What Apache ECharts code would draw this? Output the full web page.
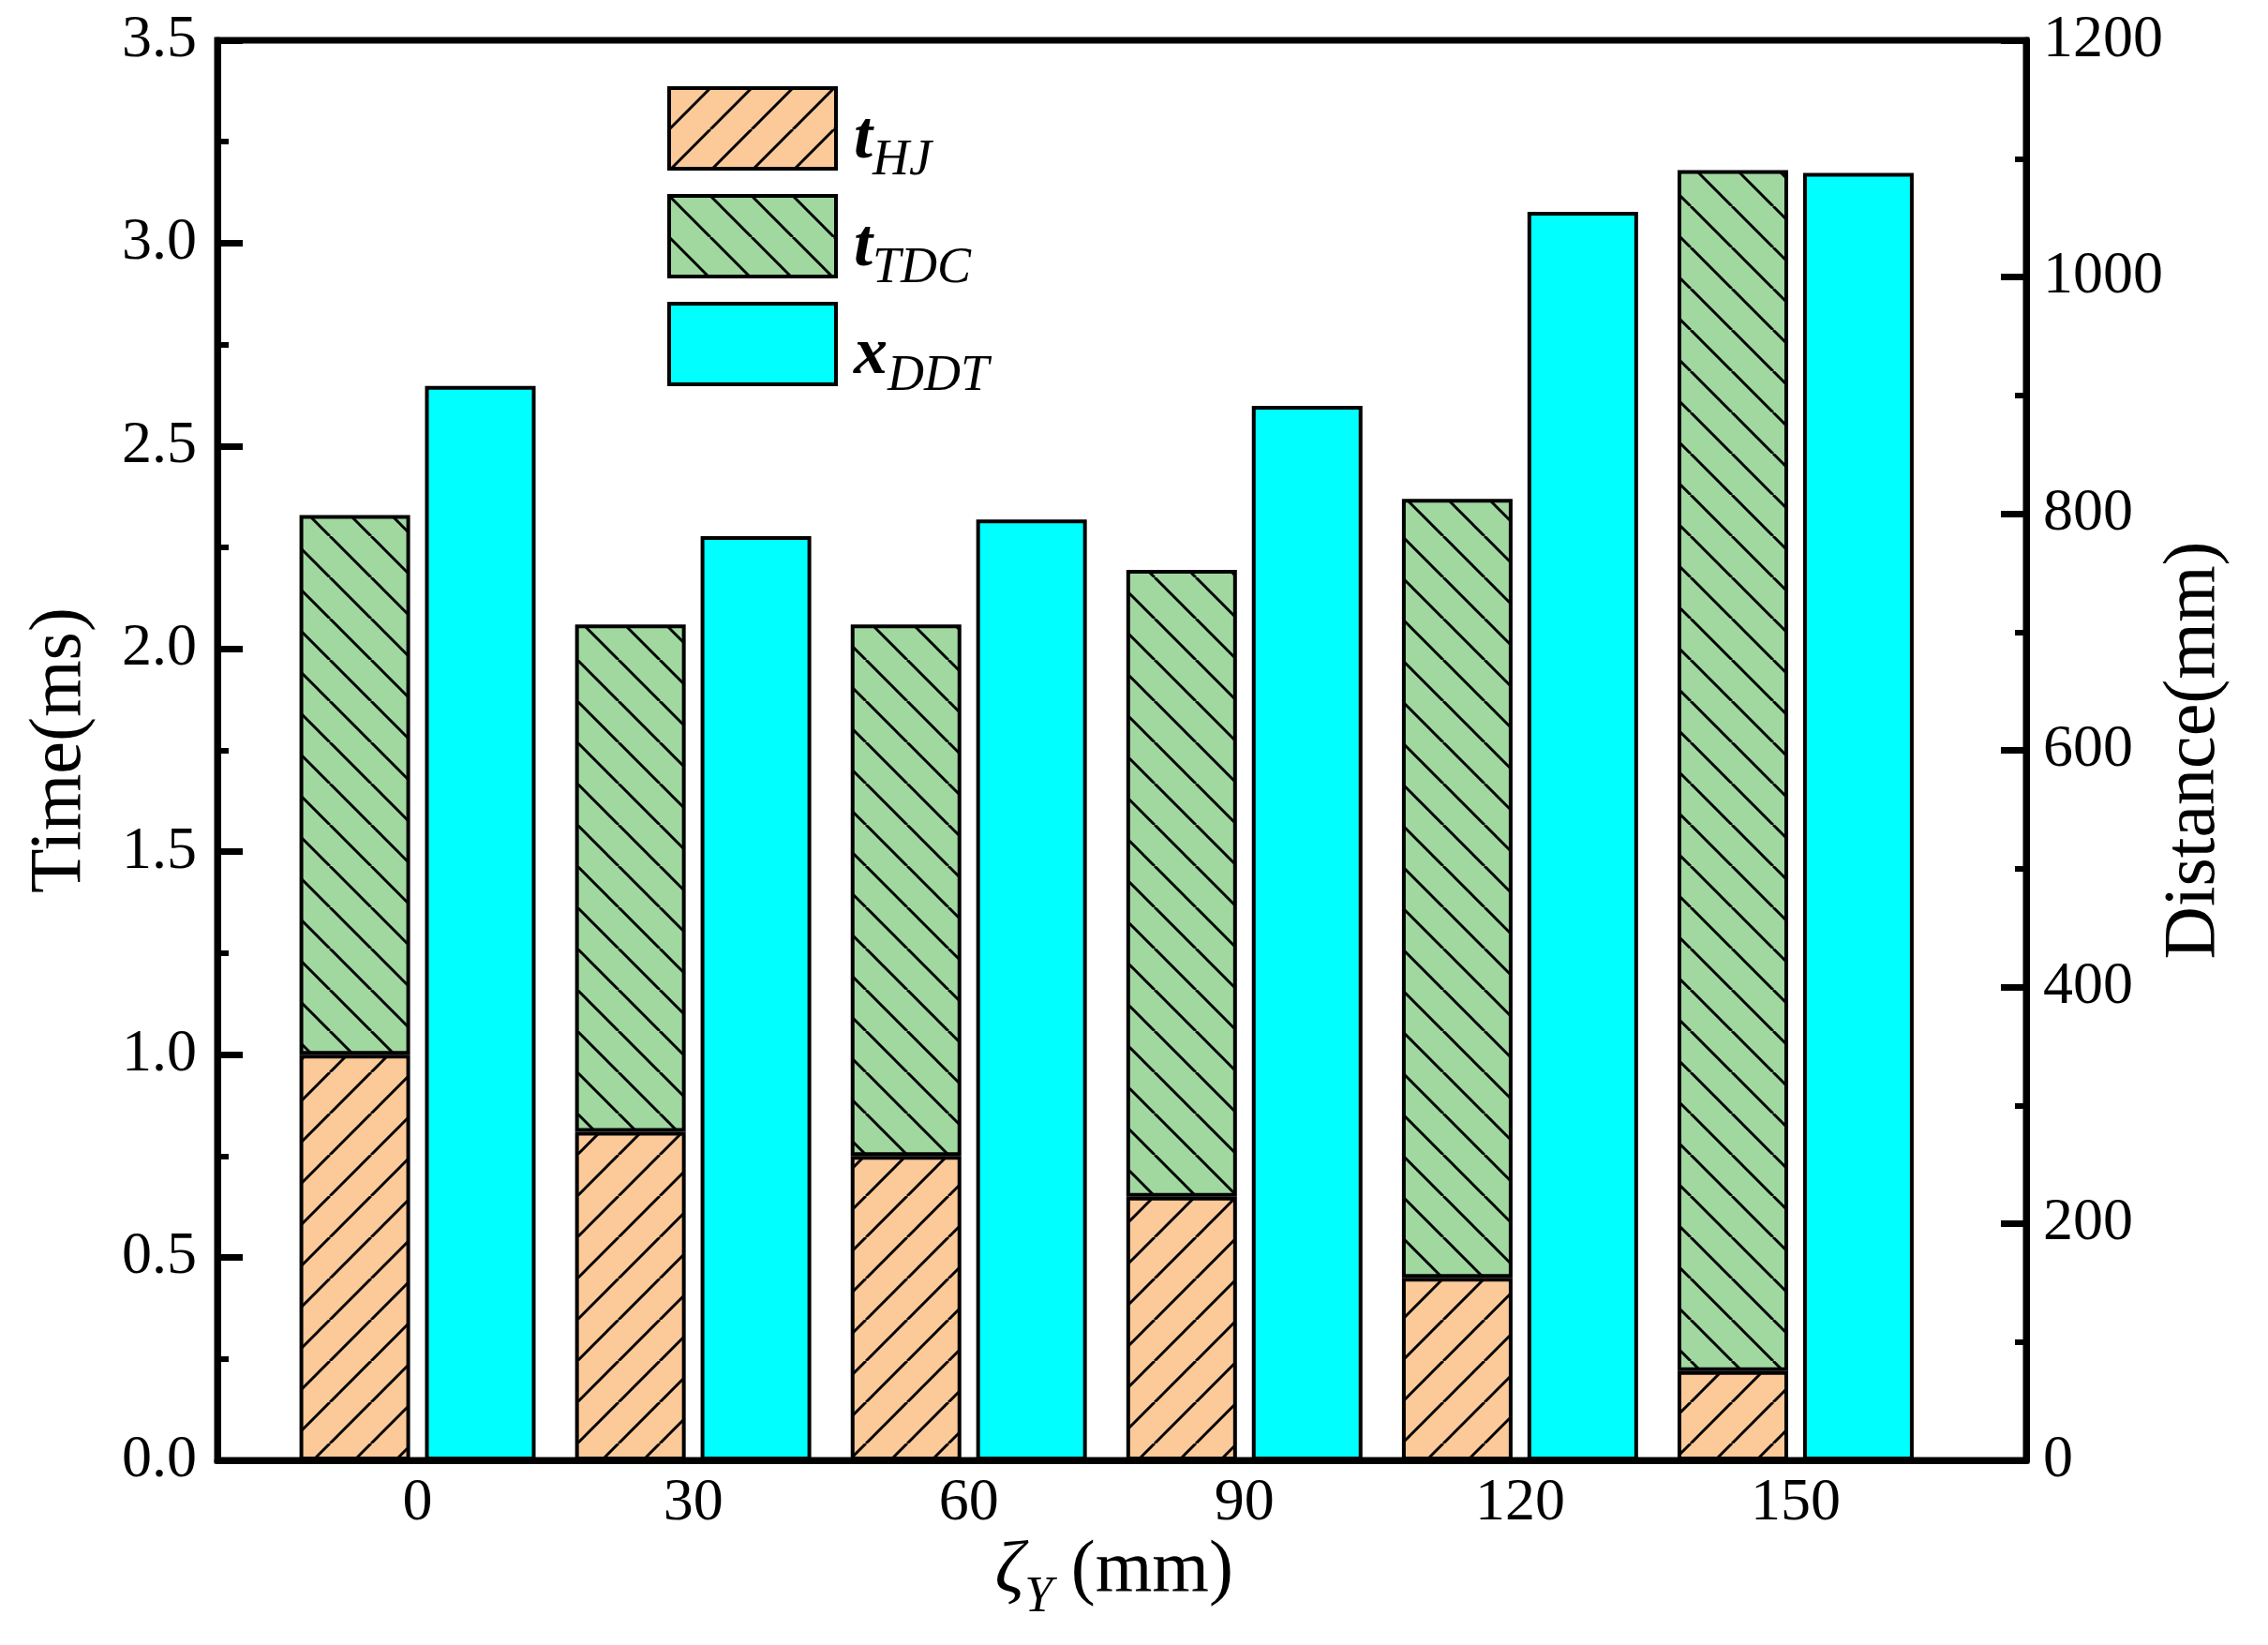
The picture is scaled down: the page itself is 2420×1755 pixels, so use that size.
<!DOCTYPE html>
<html>
<head>
<meta charset="utf-8">
<script src="https://cdn.jsdelivr.net/npm/echarts@6/dist/echarts.min.js"></script>
<style>
html,body{margin:0;padding:0;background:#fff;}
#chart{width:2420px;height:1755px;}
</style>
</head>
<body>
<div id="chart"></div>
<script>
// ---- data ----
var categories = ['0', '30', '60', '90', '120', '150'];   // zeta_Y (mm)
var tHJ  = [1.00, 0.81, 0.75, 0.65, 0.45, 0.22];          // ms
var tTDC = [1.33, 1.25, 1.31, 1.545, 1.92, 2.96];         // ms (stacked on tHJ)
var xDDT = [908, 781, 795, 891, 1055, 1088];              // mm (right axis)

var FONT = 'Liberation Serif';

function hatch(bg, dir) {
  var s = 44;
  var c = document.createElement('canvas');
  c.width = s; c.height = s;
  var g = c.getContext('2d');
  g.fillStyle = bg; g.fillRect(0, 0, s, s);
  g.strokeStyle = '#000'; g.lineWidth = 3;
  for (var k = -1; k <= 1; k++) {
    g.beginPath();
    if (dir === '/') { g.moveTo(k * s, s); g.lineTo(k * s + s, 0); }
    else { g.moveTo(k * s, 0); g.lineTo(k * s + s, s); }
    g.stroke();
  }
  return { image: c, repeat: 'repeat' };
}

var chart = echarts.init(document.getElementById('chart'), null, { renderer: 'canvas', width: 2420, height: 1755 });

var legendNames = { tHJ: '{m|t}{s|HJ}', tTDC: '{m|t}{s|TDC}', xDDT: '{m|x}{s|DDT}' };

function yAxisVisible(opts) {
  return Object.assign({
    type: 'value', gridIndex: 0, nameLocation: 'middle', nameRotate: 90, nameMoveOverlap: false,
    nameTextStyle: { fontFamily: FONT, fontSize: 78, lineHeight: 78, color: '#000' },
    axisLine: { show: true, onZero: false, lineStyle: { color: '#000', width: 7 } },
    axisTick: { show: true, inside: true, length: 27, lineStyle: { width: 7, color: '#000' } },
    minorTick: { show: true, splitNumber: 2, length: 12, lineStyle: { width: 6, color: '#000' } },
    splitLine: { show: false }
  }, opts);
}
function yAxisHidden(opts) {
  return Object.assign({
    type: 'value', gridIndex: 1, show: false,
    axisLine: { show: false }, axisTick: { show: false }, axisLabel: { show: false }, splitLine: { show: false }
  }, opts);
}

var option = {
  animation: false,
  backgroundColor: '#fff',
  grid: [
    { left: 232, right: 258, top: 43, bottom: 197, show: true, borderColor: '#000', borderWidth: 7, containLabel: false },
    { left: 298.5, right: 357, top: 43, bottom: 197, containLabel: false }
  ],
  legend: {
    orient: 'vertical', left: 707, top: 87, itemGap: 8,
    itemWidth: 178, itemHeight: 86, icon: 'rect',
    itemStyle: { borderColor: '#000', borderWidth: 4 },
    data: ['tHJ', 'tTDC', 'xDDT'],
    formatter: function (n) { return legendNames[n]; },
    textStyle: {
      rich: {
        m: { fontFamily: FONT, fontStyle: 'italic', fontWeight: 'bold', fontSize: 72, lineHeight: 72, verticalAlign: 'top', padding: [12, 0, 0, 14], color: '#000' },
        s: { fontFamily: FONT, fontStyle: 'italic', fontSize: 54, lineHeight: 54, verticalAlign: 'top', padding: [44, 0, 0, 0], color: '#000' }
      }
    }
  },
  xAxis: [
    {
      type: 'value', gridIndex: 0, min: 0, max: 1,
      axisLine: { show: true, onZero: false, lineStyle: { color: '#000', width: 7 } },
      axisTick: { show: false }, axisLabel: { show: false }, splitLine: { show: false }
    },
    {
      type: 'category', gridIndex: 1, data: categories, boundaryGap: true,
      name: '{z|ζ}{s|Y}{n| (mm)}', nameLocation: 'middle', nameGap: 80, nameMoveOverlap: false,
      nameTextStyle: {
        rich: {
          z: { fontFamily: FONT, fontStyle: 'italic', fontSize: 78, lineHeight: 78, verticalAlign: 'top', padding: [0, 0, 0, 16], color: '#000' },
          s: { fontFamily: FONT, fontStyle: 'italic', fontSize: 54, lineHeight: 54, verticalAlign: 'top', padding: [40, 0, 0, 0], color: '#000' },
          n: { fontFamily: FONT, fontSize: 78, lineHeight: 78, verticalAlign: 'top', color: '#000' }
        }
      },
      axisLine: { show: false },
      axisTick: { show: false },
      splitLine: { show: false },
      axisLabel: { fontFamily: FONT, fontSize: 64, lineHeight: 64, color: '#000', margin: 14 }
    }
  ],
  yAxis: [
    yAxisVisible({
      min: 0, max: 3.5, interval: 0.5, position: 'left', name: 'Time(ms)', nameGap: 128,
      axisLabel: { fontFamily: FONT, fontSize: 64, color: '#000', margin: 22, formatter: function (v) { return v.toFixed(1); } }
    }),
    yAxisVisible({
      min: 0, max: 1200, interval: 200, position: 'right', name: 'Distance(mm)', nameGap: 141,
      axisLabel: { fontFamily: FONT, fontSize: 64, color: '#000', margin: 18, formatter: function (v) { return String(v); } }
    }),
    yAxisHidden({ min: 0, max: 3.5, position: 'left' }),
    yAxisHidden({ min: 0, max: 1200, position: 'right' })
  ],
  series: [
    {
      name: 'tHJ', type: 'bar', stack: 'time', xAxisIndex: 1, yAxisIndex: 2, barWidth: 118, barGap: '13.5%',
      itemStyle: { color: hatch('#FCC999', '/'), borderColor: '#000', borderWidth: 4 },
      data: tHJ
    },
    {
      name: 'tTDC', type: 'bar', stack: 'time', xAxisIndex: 1, yAxisIndex: 2, barWidth: 118, barGap: '13.5%',
      itemStyle: { color: hatch('#A0D8A0', '\\'), borderColor: '#000', borderWidth: 4 },
      data: tTDC
    },
    {
      name: 'xDDT', type: 'bar', xAxisIndex: 1, yAxisIndex: 3, barWidth: 118, barGap: '13.5%',
      itemStyle: { color: '#00FFFF', borderColor: '#000', borderWidth: 4 },
      data: xDDT
    }
  ]
};
chart.setOption(option);
</script>
</body>
</html>
